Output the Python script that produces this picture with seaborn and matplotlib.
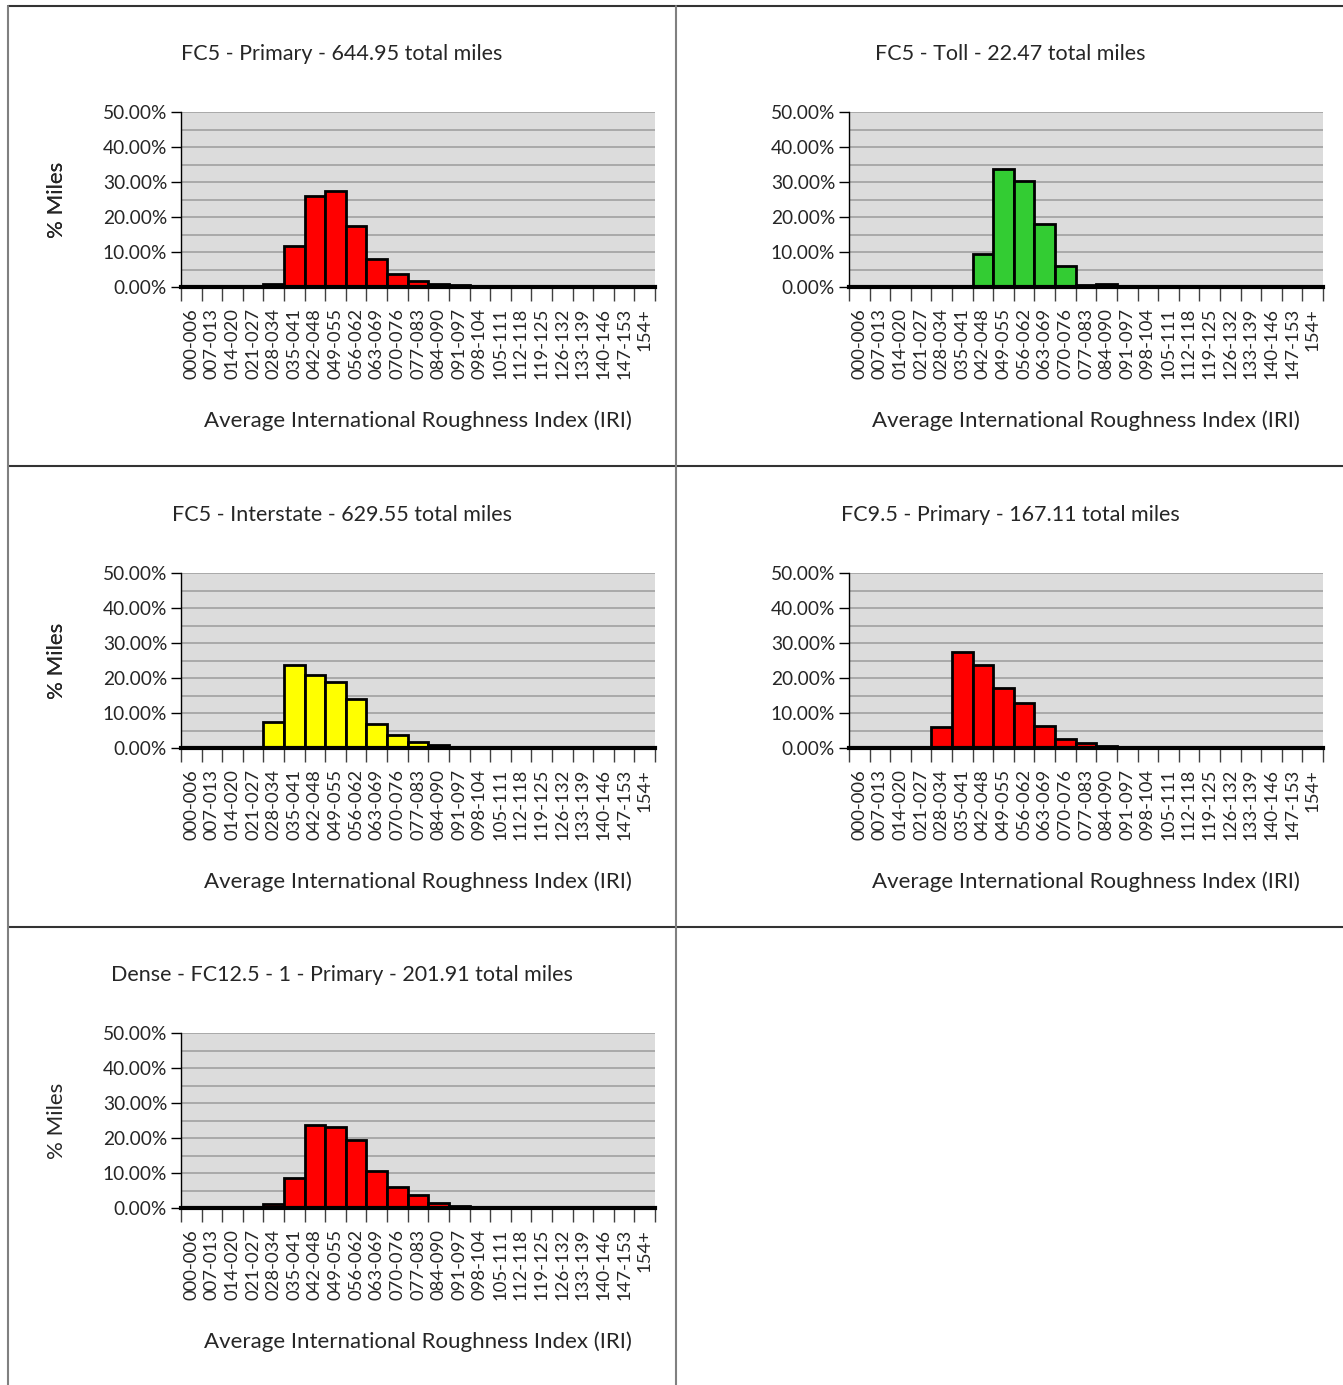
import matplotlib
matplotlib.use("Agg")
import matplotlib.pyplot as plt
import seaborn as sns
from matplotlib.lines import Line2D
from matplotlib.ticker import FuncFormatter, MultipleLocator

# bins of the roughness index
bins = ["000-006", "007-013", "014-020", "021-027", "028-034", "035-041",
        "042-048", "049-055", "056-062", "063-069", "070-076", "077-083",
        "084-090", "091-097", "098-104", "105-111", "112-118", "119-125",
        "126-132", "133-139", "140-146", "147-153", "154+"]

# % miles per bin
fc5_primary = [0.05, 0.05, 0.05, 0.05, 0.9, 11.7, 25.9, 27.4, 17.3, 8.1, 3.7, 1.6,
               0.9, 0.5, 0.2, 0.1, 0.1, 0.05, 0.05, 0.05, 0.05, 0.05, 0.05]
fc5_toll = [0, 0, 0, 0, 0, 0, 9.3, 33.6, 30.3, 18.0, 5.9, 0.7,
            0.9, 0, 0, 0, 0, 0, 0, 0, 0, 0, 0]
fc5_interstate = [0, 0, 0, 0, 7.3, 23.8, 20.9, 19.0, 14.1, 6.8, 3.7, 1.7,
                  0.8, 0.4, 0.2, 0.2, 0.1, 0.1, 0.1, 0.05, 0.05, 0.05, 0.05]
fc95_primary = [0, 0, 0, 0.1, 6.0, 27.3, 23.7, 17.2, 13.0, 6.4, 2.5, 1.4,
                0.5, 0.4, 0.2, 0.2, 0.2, 0.05, 0.05, 0.05, 0.05, 0.05, 0.05]
dense_primary = [0, 0, 0, 0, 1.2, 8.7, 23.7, 23.1, 19.5, 10.7, 6.1, 3.8,
                 1.5, 0.5, 0.05, 0.05, 0.05, 0.05, 0.05, 0.05, 0.05, 0.05, 0.05]

titles = ["FC5 - Primary - 644.95 total miles",
          "FC5 - Toll - 22.47 total miles",
          "FC5 - Interstate - 629.55 total miles",
          "FC9.5 - Primary - 167.11 total miles",
          "Dense - FC12.5 - 1 - Primary - 201.91 total miles"]
series = [fc5_primary, fc5_toll, fc5_interstate, fc95_primary, dense_primary]
colors = ["#FF0000", "#33CC33", "#FFFF00", "#FF0000", "#FF0000"]

sns.set_theme(style="white")
plt.rcParams["font.family"] = ["Lato", "DejaVu Sans"]

W, H = 1343, 1385
fig = plt.figure(figsize=(W / 100, H / 100), dpi=100)

# axes boxes in pixels: (left, top) of each plot area
boxes = [(181, 112), (849, 112), (181, 573), (849, 573), (181, 1033)]
ax_w, ax_h = 474, 175
title_x = [342, 1010, 342, 1010, 342]

for i, (vals, ttl, col) in enumerate(zip(series, titles, colors)):
    left, top = boxes[i]
    ax = fig.add_axes([left / W, 1 - (top + ax_h) / H, ax_w / W, ax_h / H])
    ax.set_facecolor("#DCDCDC")
    sns.barplot(x=bins, y=vals, color=col, edgecolor="black", linewidth=2,
                width=1, saturation=1, ax=ax, zorder=3)
    ax.set_xlim(-0.5, len(bins) - 0.5)
    ax.set_ylim(0, 50)

    ax.yaxis.set_major_locator(MultipleLocator(10))
    ax.yaxis.set_minor_locator(MultipleLocator(5))
    ax.yaxis.set_major_formatter(FuncFormatter(lambda v, p: f"{v:.2f}%"))
    ax.grid(axis="y", which="both", color="#A0A0A0", linewidth=1.2, zorder=0)
    ax.set_axisbelow(True)
    ax.tick_params(axis="y", which="major", left=True, length=7, width=1,
                   color="black", labelsize=13.8, pad=3)
    ax.tick_params(axis="y", which="minor", left=False)

    ax.set_xticks(range(len(bins)))
    ax.set_xticklabels(bins, rotation=90)
    ax.set_xticks([k - 0.5 for k in range(len(bins) + 1)], minor=True)
    ax.tick_params(axis="x", which="major", length=0, labelsize=13.3, pad=15)
    ax.tick_params(axis="x", which="minor", bottom=True, length=10, width=1,
                   color="#404040")

    for s in ["top", "right"]:
        ax.spines[s].set_visible(False)
    ax.spines["left"].set_color("black")
    ax.spines["left"].set_linewidth(1)
    ax.spines["bottom"].set_color("black")
    ax.spines["bottom"].set_linewidth(3)
    ax.spines["bottom"].set_zorder(5)

    ax.set_xlabel("")
    ax.set_ylabel("% Miles", fontsize=16)
    ax.yaxis.set_label_coords(-(left - 67) / ax_w, 0.5)

    fig.text(title_x[i] / W, 1 - 54 / H - (top - 112) / H, ttl,
             ha="center", va="center", fontsize=15.5)
    fig.text((left + ax_w / 2) / W, 1 - (top + 309) / H,
             "Average International Roughness Index (IRI)",
             ha="center", va="center", fontsize=16)

# panel borders
def hline(y, color):
    fig.add_artist(Line2D([8 / W, 1], [1 - y / H, 1 - y / H], color=color, linewidth=1.5))

def vline(x, color):
    fig.add_artist(Line2D([x / W, x / W], [1 - 6 / H, 0], color=color, linewidth=1.5))

hline(6, "#333333")
hline(466, "#333333")
hline(927, "#333333")
vline(8, "#808080")
vline(676, "#808080")

plt.savefig("out.png", dpi=100, facecolor="white")
